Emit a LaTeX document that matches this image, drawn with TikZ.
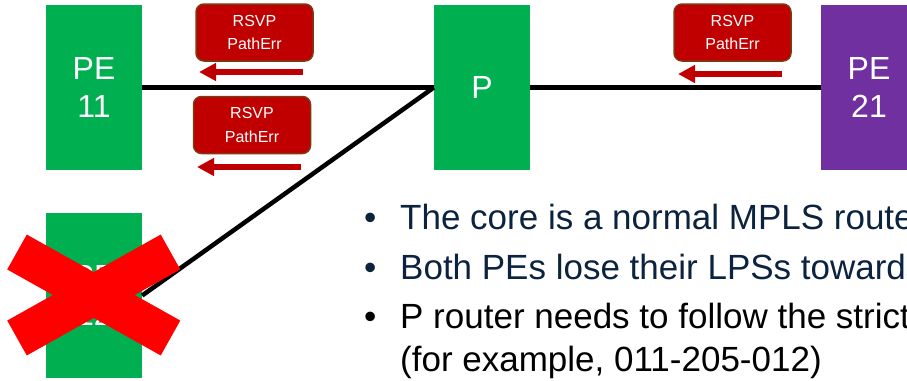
\documentclass[tikz,border=0pt]{standalone}
\usepackage{fontspec}
\setmainfont{Liberation Sans}
\usetikzlibrary{arrows.meta}
\definecolor{pegreen}{HTML}{00B050}
\definecolor{pepurple}{HTML}{7030A0}
\definecolor{errred}{HTML}{C00000}
\definecolor{errborder}{HTML}{7A3A12}
\definecolor{navy}{HTML}{0C2340}
\definecolor{xred}{HTML}{FF0000}
\tikzset{
  routerbox/.style={rectangle, inner sep=0pt, minimum width=96pt, minimum height=165pt,
    text=white, align=center, font=\fontsize{32}{37.7}\selectfont},
  link/.style={line width=4.5pt, black},
  msgbox/.style={rectangle, rounded corners=8pt, fill=errred, draw=errborder, line width=1.5pt,
    minimum width=117pt, minimum height=57pt, inner sep=0pt, text=white, align=center,
    font=\fontsize{16}{23.3}\selectfont},
  errarrow/.style={errred, line width=5.5pt, -{Triangle[length=17pt,width=17pt]}},
  crossbar/.style={xred, line width=40pt},
  bullettext/.style={anchor=base west, inner sep=0pt, font=\fontsize{35}{40}\selectfont},
}
\begin{document}
\begin{tikzpicture}[x=1pt,y=-1pt]
\useasboundingbox (0,0) rectangle (907,380);
% routers
\node[routerbox, fill=pegreen] (pe11) at (94,87.5) {PE\\11};
\node[routerbox, fill=pegreen] (p) at (482,87.5) {P};
\node[routerbox, fill=pepurple] (pe21) at (869,87.5) {PE\\21};
\node[routerbox, fill=pegreen] (pe12) at (94,295.5) {PE\\12};
% links
\draw[link] (pe11.east) -- (p.west);
\draw[link] (p.east) -- (pe21.west);
\draw[link] (p.west) -- (pe12.east);
% failure cross
\draw[crossbar] (17,252) -- (170.5,338);
\draw[crossbar] (17,338) -- (170.5,252);
% messages
\node[msgbox] (m1) at (254.5,32.5) {RSVP\\PathErr};
\node[msgbox] (m2) at (252,125) {RSVP\\PathErr};
\node[msgbox] (m3) at (732.5,32.5) {RSVP\\PathErr};
\coordinate (a1s) at (303,72);
\coordinate (a1e) at (199,72);
\coordinate (a2s) at (301,167);
\coordinate (a2e) at (197,167);
\coordinate (a3s) at (782,74);
\coordinate (a3e) at (678,74);
\draw[errarrow] (a1s) -- (a1e);
\draw[errarrow] (a2s) -- (a2e);
\draw[errarrow] (a3s) -- (a3e);
% bullets
\node[bullettext, text=navy] (b1dot) at (364,229) {•};
\node[bullettext, text=navy] (b1) at (400,229) {The core is a normal MPLS router};
\node[bullettext, text=navy] (b2dot) at (364,279) {•};
\node[bullettext, text=navy] (b2) at (400,279) {Both PEs lose their LPSs towards};
\node[bullettext, text=black] (b3dot) at (364,328) {•};
\node[bullettext, text=black] (b3) at (400,328) {P router needs to follow the strict};
\node[bullettext, text=black] (b4) at (400,371) {(for example, 011-205-012)};
\end{tikzpicture}
\end{document}
